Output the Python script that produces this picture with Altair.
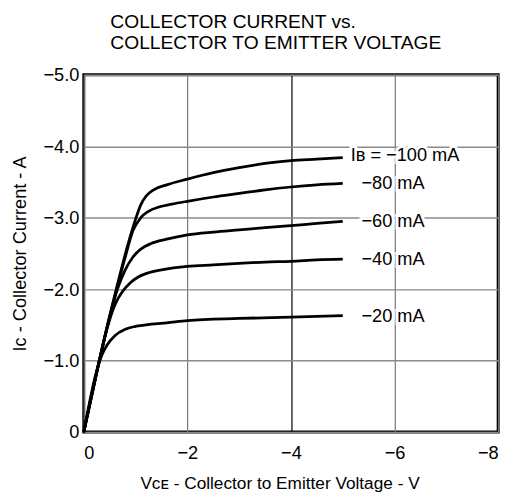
import altair as alt
import pandas as pd

# ---- data ----
ib_labels = ["Iʙ = −100 mA", "−80 mA", "−60 mA", "−40 mA", "−20 mA"]
ib_ma = [-100, -80, -60, -40, -20]

vce_100 = [0, -0.3, -0.6, -0.85, -1.0, -1.1, -1.2, -1.35, -1.6, -2.0, -2.5, -3.0, -3.5, -4.0, -4.5, -5.0]
ic_100 = [0, -1.0, -1.92, -2.62, -2.98, -3.18, -3.30, -3.39, -3.46, -3.54, -3.63, -3.70, -3.76, -3.80, -3.82, -3.84]

vce_80 = [0, -0.3, -0.6, -0.8, -0.95, -1.1, -1.25, -1.45, -1.7, -2.0, -2.5, -3.0, -3.5, -4.0, -4.5, -5.0]
ic_80 = [0, -1.0, -1.9, -2.45, -2.82, -3.0, -3.09, -3.15, -3.19, -3.23, -3.29, -3.34, -3.39, -3.43, -3.46, -3.48]

vce_60 = [0, -0.3, -0.5, -0.65, -0.8, -0.95, -1.1, -1.3, -1.6, -2.0, -2.5, -3.0, -3.5, -4.0, -4.5, -5.0]
ic_60 = [0, -1.0, -1.62, -2.0, -2.27, -2.45, -2.56, -2.64, -2.70, -2.76, -2.80, -2.83, -2.86, -2.89, -2.92, -2.95]

vce_40 = [0, -0.3, -0.45, -0.6, -0.75, -0.9, -1.05, -1.25, -1.5, -2.0, -2.5, -3.0, -3.5, -4.0, -4.5, -5.0]
ic_40 = [0, -1.0, -1.45, -1.78, -1.97, -2.09, -2.17, -2.23, -2.27, -2.32, -2.34, -2.36, -2.38, -2.39, -2.41, -2.42]

vce_20 = [0, -0.25, -0.35, -0.45, -0.6, -0.8, -1.0, -1.3, -1.6, -2.0, -3.0, -4.0, -5.0]
ic_20 = [0, -0.86, -1.08, -1.22, -1.35, -1.44, -1.48, -1.51, -1.53, -1.56, -1.59, -1.61, -1.63]

x_ticks = [0, -2, -4, -6, -8]
y_ticks = [0, -1, -2, -3, -4, -5]

title_lines = ["COLLECTOR CURRENT vs.", "COLLECTOR TO EMITTER VOLTAGE"]
x_title = "Vᴄᴇ - Collector to Emitter Voltage - V"
y_title = "Iᴄ - Collector Current - A"

# ---- tables ----
vce_series = [vce_100, vce_80, vce_60, vce_40, vce_20]
ic_series = [ic_100, ic_80, ic_60, ic_40, ic_20]

rows = []
for ib, vs, cs in zip(ib_ma, vce_series, ic_series):
    for i, (v, c) in enumerate(zip(vs, cs)):
        rows.append({"ib": ib, "idx": i, "vce": v, "ic": c})
curves = pd.DataFrame(rows)

labels = pd.DataFrame({
    "label": ib_labels,
    "ib": ib_ma,
    "first": [1, 0, 0, 0, 0],
    "vce": [s[-1] for s in vce_series],
    "ic": [s[-1] for s in ic_series],
})

FONT = "Liberation Sans"
FS = 18.5

x_enc = alt.X(
    "vce:Q",
    scale=alt.Scale(domain=[0, -8], nice=False),
    axis=alt.Axis(
        values=x_ticks,
        labelExpr="format(datum.value, 'd')",
        title=x_title,
        ticks=False,
        domain=False,
        grid=True,
        gridColor=alt.condition("datum.value == -4", alt.value("#000000"), alt.value("#777777")),
        gridWidth=1.2,
        labelPadding=12,
        labelFontSize=FS,
        titleFontSize=17.5,
        titleFontWeight="normal",
        labelColor="black",
        titleColor="black",
        titleAlign="left",
        titleBaseline="alphabetic",
        titleX=57,
        titleY=57,
        labelFont=FONT,
        titleFont=FONT,
    ),
)
y_enc = alt.Y(
    "ic:Q",
    scale=alt.Scale(domain=[0, -5], nice=False),
    axis=alt.Axis(
        values=y_ticks,
        labelExpr="datum.value == 0 ? '0' : format(datum.value, '.1f')",
        title=y_title,
        ticks=False,
        domain=False,
        grid=True,
        gridColor="#8a8a8a",
        gridWidth=1.5,
        labelPadding=5,
        labelFontSize=FS,
        titleFontSize=FS,
        titleFontWeight="normal",
        labelColor="black",
        titleColor="black",
        titlePadding=14,
        labelFont=FONT,
        titleFont=FONT,
    ),
)

lines = alt.Chart(curves).mark_line(
    color="black", strokeWidth=2.8, interpolate="monotone"
).encode(x=x_enc, y=y_enc, detail="ib:N", order="idx:Q")

base_lab = alt.Chart(labels)


def text_layer(filt, dx, dy, halo):
    kw = dict(align="left", baseline="middle", dx=dx, dy=dy, font=FONT, fontSize=FS)
    if halo:
        kw.update(stroke="white", strokeWidth=6, fill="white")
    else:
        kw.update(fill="black")
    return base_lab.transform_filter(filt).mark_text(**kw).encode(
        x="vce:Q", y="ic:Q", text="label:N"
    )


layers = [
    lines,
    text_layer("datum.first == 1", 8, -3, True),
    text_layer("datum.first == 0", 19, 0, True),
    text_layer("datum.first == 1", 8, -3, False),
    text_layer("datum.first == 0", 19, 0, False),
]

chart = alt.layer(*layers).properties(
    width=421,
    height=363,
    title=alt.TitleParams(
        text=title_lines,
        anchor="start",
        frame="group",
        dx=27,
        offset=13,
        fontSize=19.5,
        fontWeight="normal",
        font=FONT,
        color="black",
        lineHeight=21,
    ),
    autosize=alt.AutoSizeParams(type="none"),
    padding={"left": 77, "top": 64, "right": 10, "bottom": 58},
).configure(font=FONT).configure_view(stroke="black", strokeWidth=3)

chart.save("out.html", embed_options={"renderer": "svg", "actions": False})
